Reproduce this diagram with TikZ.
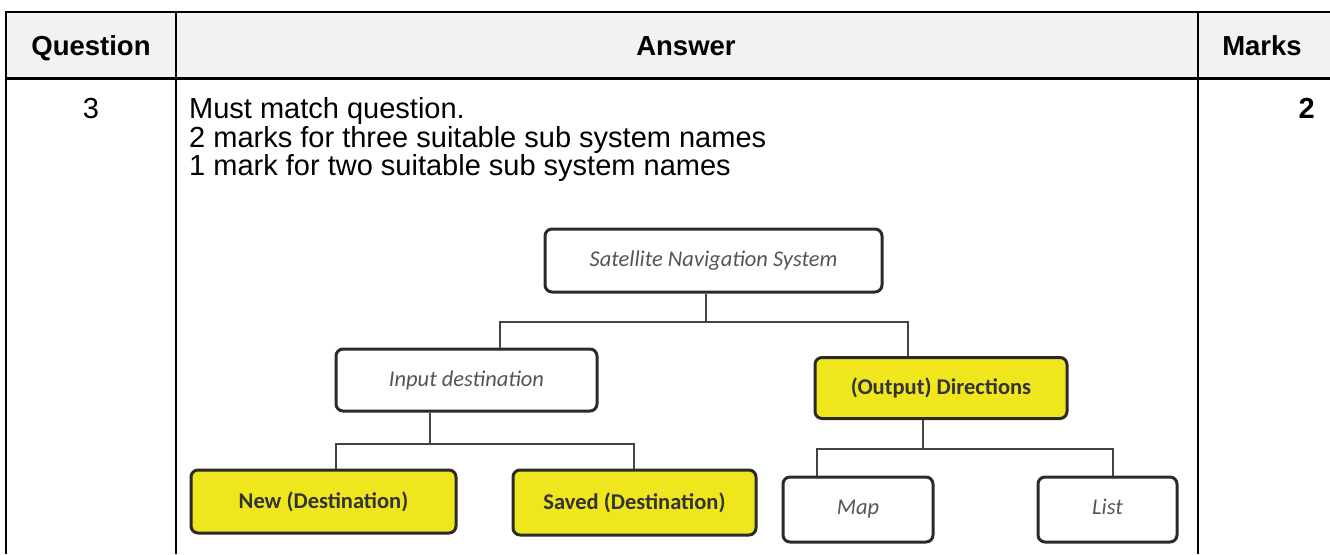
\documentclass[tikz,border=0pt]{standalone}
\usepackage{fontspec}
\setmainfont{Liberation Sans}
\newfontfamily\diafont{Carlito}
\definecolor{hdrgray}{HTML}{F2F2F2}
\definecolor{boxline}{HTML}{2A2A2A}
\definecolor{connline}{HTML}{444444}
\definecolor{ytext}{HTML}{333333}
\definecolor{itext}{HTML}{555555}
\definecolor{hiyellow}{RGB}{240,230,30}
\tikzset{
  rowtext/.style={anchor=base west, inner sep=0pt, font=\fontsize{29}{29}\selectfont},
  hdrtext/.style={anchor=base, inner sep=0pt, font=\fontsize{27.5}{28}\selectfont\bfseries},
  dbox/.style={draw=boxline, line width=3pt, rounded corners=7pt, fill=white, inner sep=0pt},
  plainbox/.style={dbox, font=\diafont\fontsize{22.5}{23}\selectfont\itshape, text=itext},
  hibox/.style={dbox, fill=hiyellow, font=\diafont\fontsize{22.5}{23}\selectfont\bfseries, text=ytext},
  conn/.style={draw=connline, line width=2pt},
  tline/.style={draw=black, line width=2.5pt}
}
\begin{document}
\begin{tikzpicture}[x=1pt, y=-1pt]
\useasboundingbox (0,0) rectangle (1330,554);
% table
\fill[hdrgray] (6,12) rectangle (1330,78);
\draw[black, line width=2pt] (6,12) -- (1330,12);
\draw[black, line width=3pt] (6,78) -- (1330,78);
\draw[tline] (6,11) -- (6,554);
\draw[tline] (176,12) -- (176,554);
\draw[tline] (1198,12) -- (1198,554);
% headers
\node[hdrtext] (hq) at (91,55) {Question};
\node[hdrtext] (ha) at (686,55) {Answer};
\node[hdrtext] (hm) at (1262,55) {Marks};
% row
\node[anchor=base, inner sep=0pt, font=\fontsize{29}{29}\selectfont] (qn) at (91,118) {3};
\node[anchor=base east, inner sep=0pt, font=\fontsize{29}{29}\selectfont\bfseries] (mk) at (1315,118) {2};
\node[rowtext] (l1) at (189,118) {Must match question.};
\node[rowtext] (l2) at (189,147) {2 marks for three suitable sub system names};
\node[rowtext] (l3) at (189,175) {1 mark for two suitable sub system names};
% diagram
\node[plainbox, minimum width=337pt, minimum height=63pt] (sat) at (713.5,260.5) {\raisebox{4pt}{Satellite Navigation System}};
\node[plainbox, minimum width=261pt, minimum height=62pt] (inp) at (466.5,380) {\raisebox{3pt}{Input destination}};
\node[hibox, minimum width=252pt, minimum height=61pt] (outp) at (941,388) {(Output) Directions};
\node[hibox, minimum width=265pt, minimum height=63pt] (new) at (323.5,501.5) {New (Destination)};
\node[hibox, minimum width=243pt, minimum height=65pt] (saved) at (634.5,502.5) {Saved (Destination)};
\node[plainbox, minimum width=150pt, minimum height=65pt] (map) at (858,509.5) {\raisebox{5pt}{Map}};
\node[plainbox, minimum width=139pt, minimum height=65pt] (list) at (1107.5,509.5) {\raisebox{5pt}{List}};
% connectors
\draw[conn] ([xshift=-7.5pt]sat.south) -- ++(0,28) -| ([xshift=33.5pt]inp.north);
\draw[conn] ([xshift=-7.5pt]sat.south) -- ++(0,28) -| ([xshift=-33pt]outp.north);
\draw[conn] ([xshift=-36.5pt]inp.south) -- ++(0,31) -| ([xshift=12.5pt]new.north);
\draw[conn] ([xshift=-36.5pt]inp.south) -- ++(0,31) -| ([xshift=-0.5pt]saved.north);
\draw[conn] ([xshift=-18pt]outp.south) -- ++(0,29) -| ([xshift=-41pt]map.north);
\draw[conn] ([xshift=-18pt]outp.south) -- ++(0,29) -| ([xshift=5.5pt]list.north);
\end{tikzpicture}
\end{document}
